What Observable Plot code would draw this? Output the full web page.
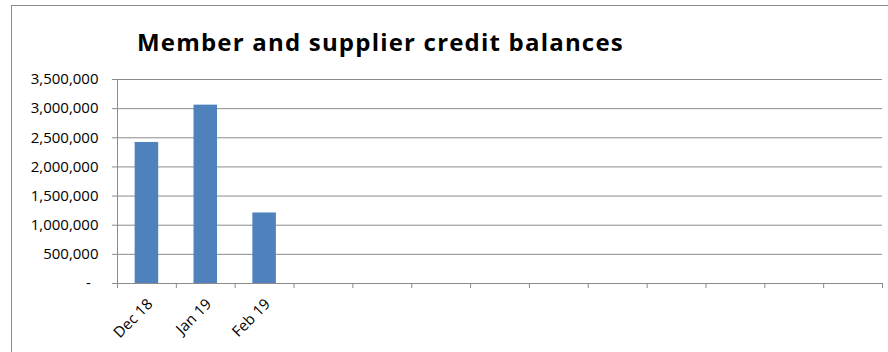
<!DOCTYPE html>
<html>
<head>
<meta charset="utf-8">
<script src="https://cdn.jsdelivr.net/npm/d3@7"></script>
<script src="https://cdn.jsdelivr.net/npm/@observablehq/plot@0.6"></script>
<style>
  html, body { margin: 0; padding: 0; background: #fff; }
  #wrap { position: relative; width: 888px; height: 352px; overflow: hidden; font-family: "Open Sans", sans-serif; }
  #frame { position: absolute; left: 11px; top: 5px; width: 900px; height: 400px; border: 1px solid #8c8c8c; box-sizing: border-box; }
  #title { position: absolute; left: 137px; top: 30px; font: bold 24px/24px "Open Sans", sans-serif; color: #000; white-space: nowrap; letter-spacing: 1.2px; }
  #chart { position: absolute; left: 0; top: 0; }
</style>
</head>
<body>
<div id="wrap">
  <div id="frame"></div>
  <div id="chart"></div>
  <div id="title">Member and supplier credit balances</div>
</div>
<script>
// Categories (13 slots on the axis; only the first three are labelled/filled)
const categories = ["Dec 18", "Jan 19", "Feb 19", "", "", "", "", "", "", "", "", "", ""];
const balances = [2420000, 3060000, 1210000];
const yTicks = [0, 500000, 1000000, 1500000, 2000000, 2500000, 3000000, 3500000];

const bars = balances.map((v, i) => ({ i, label: categories[i], v }));
const labels = categories.map((label, i) => ({ i, label })).filter(d => d.label !== "");
const boundaries = d3.range(categories.length + 1);

const fmt = d => d === 0 ? "-\u00a0\u00a0" : d3.format(",")(d);

const chart = Plot.plot({
  width: 888,
  height: 352,
  marginLeft: 117,
  marginRight: 6,
  marginTop: 79,
  marginBottom: 69,
  style: { fontFamily: "Open Sans", background: "transparent", overflow: "visible" },
  x: { type: "linear", domain: [0, categories.length] },
  y: { domain: [0, 3500000] },
  marks: [
    Plot.ruleY(yTicks.filter(d => d > 0), { stroke: "#8c8c8c", strokeWidth: 1 }),
    Plot.rectY(bars, { x1: d => d.i + 0.3, x2: d => d.i + 0.7, y: "v", fill: "#4f81bd", inset: 0 }),
    Plot.ruleX([0], { stroke: "#8c8c8c" }),
    Plot.ruleY([0], { stroke: "#8c8c8c" }),
    Plot.axisY({ ticks: yTicks, tickSize: 5, tickPadding: 14, tickFormat: fmt, stroke: "#8c8c8c", fill: "#000", fontSize: 15, label: null, style: "letter-spacing:0.2px" }),
    Plot.axisX({ ticks: boundaries, tickSize: 5, tickFormat: () => "", stroke: "#8c8c8c", label: null }),
    Plot.text(labels, { x: d => d.i + 0.5, y: 0, text: "label", rotate: -45, textAnchor: "end", lineAnchor: "top", dx: -1, dy: 14, fontSize: 15, fill: "#000" })
  ]
});
document.getElementById("chart").appendChild(chart);
</script>
</body>
</html>
